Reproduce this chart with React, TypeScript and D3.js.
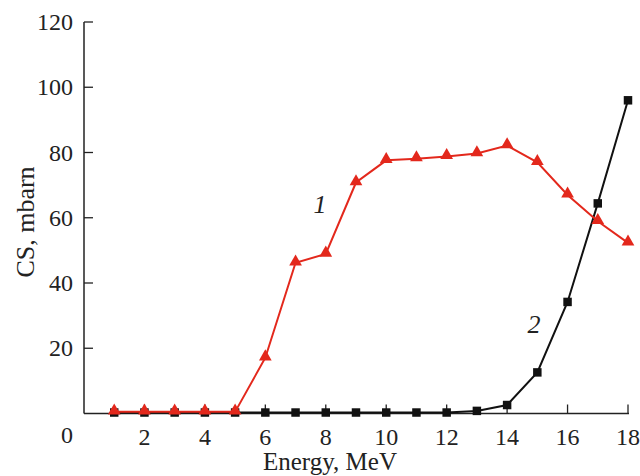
import React from "react";
import * as d3 from "d3";

const energies = [1, 2, 3, 4, 5, 6, 7, 8, 9, 10, 11, 12, 13, 14, 15, 16, 17, 18];
const series1 = [0.5, 0.5, 0.5, 0.5, 0.5, 17.1, 46.2, 48.9, 70.8, 77.6, 78.1, 78.8, 79.7, 82.1, 77.0, 67.0, 58.9, 52.3];
const series2 = [0.3, 0.3, 0.3, 0.3, 0.3, 0.3, 0.3, 0.3, 0.3, 0.3, 0.3, 0.3, 0.8, 2.6, 12.6, 34.2, 64.4, 96.0];
const xTicks = [2, 4, 6, 8, 10, 12, 14, 16, 18];
const yTicks = [20, 40, 60, 80, 100, 120];

const W = 640;
const H = 476;
const FONT = "'Liberation Serif', 'Times New Roman', serif";
const RED = "#e3281c";

export default function App() {
  const x = d3.scaleLinear().domain([0, 18]).range([84, 628]);
  const y = d3.scaleLinear().domain([0, 120]).range([413.5, 22]);

  const line = d3
    .line<number>()
    .x((_, i) => x(energies[i]))
    .y((d) => y(d));

  const tri = d3.symbol().type(d3.symbolTriangle).size(70)();
  const sq = d3.symbol().type(d3.symbolSquare).size(72)();

  return (
    <svg width={W} height={H} style={{ position: "absolute", left: 0, top: 0, background: "#fff" }}>
      {/* axes */}
      <line x1={x(0)} x2={x(0)} y1={y(120)} y2={y(0)} stroke="#222" strokeWidth={1.5} />
      <line x1={x(0)} x2={x(18) + 1} y1={y(0)} y2={y(0)} stroke="#222" strokeWidth={1.5} />
      {yTicks.map((t) => (
        <g key={"yt" + t}>
          <line x1={x(0)} x2={x(0) + 9} y1={y(t)} y2={y(t)} stroke="#222" strokeWidth={1.3} />
          <text x={73} y={y(t) + 8} textAnchor="end" fontFamily={FONT} fontSize={24} fill="#222">
            {t}
          </text>
        </g>
      ))}
      {xTicks.map((t) => (
        <g key={"xt" + t}>
          <line x1={x(t)} x2={x(t)} y1={y(0)} y2={y(0) - 9} stroke="#222" strokeWidth={1.3} />
          <text x={x(t)} y={445} textAnchor="middle" fontFamily={FONT} fontSize={24} fill="#222">
            {t}
          </text>
        </g>
      ))}
      <text x={67} y={443} textAnchor="middle" fontFamily={FONT} fontSize={24} fill="#222">
        0
      </text>
      <text
        transform={`translate(34,222) rotate(-90)`}
        textAnchor="middle"
        fontFamily={FONT}
        fontSize={26}
        fill="#222"
      >
        CS, mbarn
      </text>
      <text x={330} y={470} textAnchor="middle" fontFamily={FONT} fontSize={25} fill="#222">
        Energy, MeV
      </text>

      {/* series 2 (black squares) */}
      <path d={line(series2) || ""} fill="none" stroke="#111" strokeWidth={2} />
      {series2.map((v, i) => (
        <path key={"s2" + i} d={sq || ""} transform={`translate(${x(energies[i])},${y(v)})`} fill="#111" />
      ))}

      {/* series 1 (red triangles) */}
      <path d={line(series1) || ""} fill="none" stroke={RED} strokeWidth={2} />
      {series1.map((v, i) => (
        <path key={"s1" + i} d={tri || ""} transform={`translate(${x(energies[i])},${y(v) - 1})`} fill={RED} />
      ))}

      <text x={320} y={213} textAnchor="middle" fontFamily={FONT} fontStyle="italic" fontSize={26} fill="#222">
        1
      </text>
      <text x={534} y={333} textAnchor="middle" fontFamily={FONT} fontStyle="italic" fontSize={26} fill="#222">
        2
      </text>
    </svg>
  );
}
